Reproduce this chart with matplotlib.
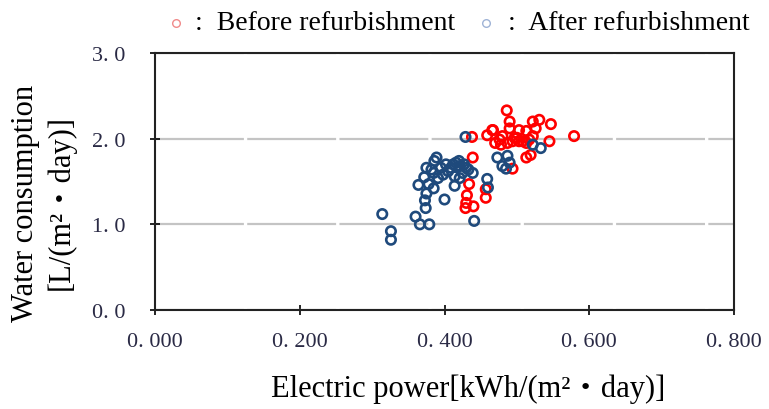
import matplotlib
matplotlib.use("Agg")
import matplotlib.pyplot as plt
from matplotlib.lines import Line2D
from matplotlib.ticker import FixedLocator, FuncFormatter

SERIF = ["Liberation Serif", "Noto Sans CJK JP", "DejaVu Serif"]
plt.rcParams["font.family"] = SERIF

# before refurbishment: electric power [kWh/(m2 day)], water [L/(m2 day)]
before_power = [0.486, 0.490, 0.490, 0.467, 0.503, 0.513, 0.522, 0.531, 0.547,
                0.526, 0.579, 0.545, 0.476, 0.478, 0.487, 0.497, 0.503, 0.513,
                0.522, 0.466, 0.459, 0.438, 0.480, 0.494, 0.508, 0.517, 0.500,
                0.470, 0.513, 0.519, 0.494, 0.439, 0.434, 0.431, 0.430, 0.429,
                0.440, 0.457, 0.457]
before_water = [2.33, 2.20, 2.12, 2.10, 2.10, 2.09, 2.20, 2.22, 2.17,
                2.12, 2.03, 1.97, 1.99, 1.93, 1.95, 2.01, 1.97, 1.95,
                2.03, 2.10, 2.04, 2.02, 2.03, 1.97, 1.97, 1.99, 2.01,
                1.95, 1.78, 1.81, 1.65, 1.78, 1.47, 1.34, 1.25, 1.19,
                1.21, 1.31, 1.41]

# after refurbishment
after_power = [0.429, 0.522, 0.533, 0.473, 0.487, 0.480, 0.490, 0.485, 0.459,
               0.460, 0.441, 0.389, 0.386, 0.375, 0.382, 0.372, 0.364, 0.378,
               0.385, 0.375, 0.373, 0.374, 0.400, 0.360, 0.366, 0.379, 0.314,
               0.326, 0.326, 0.416, 0.409, 0.421, 0.430, 0.439, 0.414, 0.421,
               0.405, 0.414, 0.398, 0.391, 0.425, 0.412, 0.420, 0.395, 0.402,
               0.385, 0.427, 0.433]
after_water = [2.02, 1.93, 1.89, 1.78, 1.80, 1.68, 1.72, 1.65, 1.53,
               1.43, 1.04, 1.78, 1.74, 1.66, 1.64, 1.55, 1.46, 1.47,
               1.42, 1.36, 1.28, 1.19, 1.29, 1.09, 1.00, 1.00, 1.12,
               0.92, 0.82, 1.72, 1.66, 1.68, 1.66, 1.60, 1.56, 1.54,
               1.62, 1.45, 1.58, 1.54, 1.60, 1.70, 1.74, 1.66, 1.70,
               1.60, 1.70, 1.64]

x_ticks = [0.0, 0.2, 0.4, 0.6, 0.8]
y_ticks = [0.0, 1.0, 2.0, 3.0]

RED = "#ff0000"
BLUE = "#1f4a7c"

fig = plt.figure(figsize=(7.69, 4.10), dpi=100)
ax = fig.add_axes([155 / 769, 1 - 311 / 410, (734 - 155) / 769, (311 - 54) / 410])

ax.scatter(before_power, before_water, s=46, facecolors="none",
           edgecolors=RED, linewidths=1.9, zorder=3)
ax.scatter(after_power, after_water, s=46, facecolors="none",
           edgecolors=BLUE, linewidths=1.9, zorder=4)

ax.set_xlim(0, 0.8)
ax.set_ylim(0, 3.0)
ax.xaxis.set_major_locator(FixedLocator(x_ticks))
ax.yaxis.set_major_locator(FixedLocator(y_ticks))
ax.xaxis.set_major_formatter(FuncFormatter(lambda v, p: f"{v:.3f}".replace(".", ". ")))
ax.yaxis.set_major_formatter(FuncFormatter(lambda v, p: f"{v:.1f}".replace(".", ". ")))
ax.tick_params(direction="inout", length=7, width=1.2, labelsize=16,
               labelcolor="#2a2a45")
ax.tick_params(axis="x", pad=12)
ax.tick_params(axis="y", pad=18)

ax.yaxis.grid(True, color="#c4c4c4", linewidth=1.6, linestyle=(0, (40, 1.5)))
ax.set_axisbelow(True)
for sp in ax.spines.values():
    sp.set_linewidth(1.5)
    sp.set_color("#222222")

# axis titles
fig.text(271 / 769, 1 - 389 / 410, "Electric power[kWh/(m\u00b2\u30fbday)]",
         fontsize=22, ha="left", va="center")
fig.text(26 / 769, 1 - 203 / 410, "Water consumption", rotation=90, fontsize=22,
         ha="center", va="center")
fig.text(61 / 769, 1 - 203 / 410, "[L/(m\u00b2\u30fbday)]", rotation=90, fontsize=22,
         ha="center", va="center")

# legend across the top
fig.add_artist(Line2D([176 / 769], [1 - 24 / 410], marker="o", markersize=5.5,
                      markerfacecolor="none", markeredgecolor="#f08a8a",
                      markeredgewidth=1.0, transform=fig.transFigure))
fig.text(195 / 769, 1 - 24 / 410, ":  Before refurbishment", fontsize=20,
         ha="left", va="center")
fig.add_artist(Line2D([486 / 769], [1 - 24 / 410], marker="o", markersize=5.5,
                      markerfacecolor="none", markeredgecolor="#9fb3d6",
                      markeredgewidth=1.0, transform=fig.transFigure))
fig.text(508 / 769, 1 - 24 / 410, ":  After refurbishment", fontsize=20,
         ha="left", va="center")

fig.savefig("out.png", dpi=100, facecolor="white")
